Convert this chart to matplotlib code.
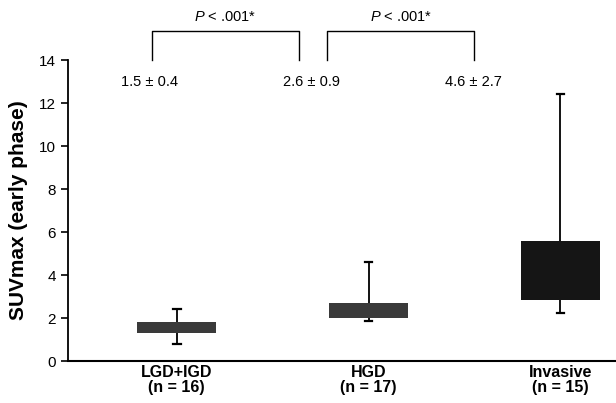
import matplotlib.pyplot as plt

plt.rcParams['font.family'] = ['Liberation Sans', 'DejaVu Sans']
plt.rcParams['mathtext.fontset'] = 'custom'
plt.rcParams['mathtext.it'] = 'Liberation Sans:italic'
plt.rcParams['mathtext.rm'] = 'Liberation Sans'

# donnees
groupes = ["LGD+IGD\n(n = 16)", "HGD\n(n = 17)", "Invasive\n(n = 15)"]
q1 = [1.30, 2.00, 2.84]
q3 = [1.81, 2.70, 5.58]
bas = [0.79, 1.86, 2.23]
haut = [2.42, 4.60, 12.40]
moyennes = ["1.5 \u00b1 0.4", "2.6 \u00b1 0.9", "4.6 \u00b1 2.7"]
couleurs = ["#3a3a3a", "#3a3a3a", "#151515"]
p_valeurs = ["$P$ < .001*", "$P$ < .001*"]

fig = plt.figure(figsize=(6.16, 4.03), dpi=100)
ax = fig.add_axes([0.110, 0.104, 0.89, 0.747])

stats = []
for i in range(len(groupes)):
    stats.append({"q1": q1[i], "q3": q3[i], "whislo": bas[i], "whishi": haut[i],
                  "med": q1[i], "fliers": []})

pos = [0, 1, 2]
bp = ax.bxp(stats, positions=pos, widths=0.41, patch_artist=True,
            showfliers=False, capwidths=0.04,
            medianprops=dict(linewidth=0, alpha=0),
            whiskerprops=dict(color="black", linewidth=1.3),
            capprops=dict(color="black", linewidth=1.6),
            boxprops=dict(linewidth=0))
for patch, c in zip(bp["boxes"], couleurs):
    patch.set_facecolor(c)
    patch.set_edgecolor(c)
    patch.set_zorder(3)

ax.set_xlim(-0.568, 2.29)
ax.set_ylim(0, 14)
ax.set_yticks(range(0, 15, 2))
ax.set_xticks(pos)
ax.set_xticklabels(groupes, fontweight="bold", fontsize=11.5, linespacing=0.95)
ax.tick_params(axis="x", length=0, pad=3)
ax.tick_params(axis="y", labelsize=11, length=5, width=1.2)
ax.set_ylabel("SUVmax (early phase)", fontsize=15, fontweight="bold", labelpad=8)

ax.spines["top"].set_visible(False)
ax.spines["right"].set_visible(False)
ax.spines["left"].set_linewidth(1.3)
ax.spines["bottom"].set_linewidth(1.5)

# moyennes et crochets
x_labels = [-0.14, 0.705, 1.545]
for x, t in zip(x_labels, moyennes):
    ax.text(x, 13.0, t, ha="center", va="center", fontsize=10.5, clip_on=False)

crochets = [(-0.13, 0.635), (0.786, 1.55)]
for (a, b), p in zip(crochets, p_valeurs):
    ax.plot([a, a, b, b], [14.0, 15.35, 15.35, 14.0], color="black", lw=1.0, clip_on=False)
    ax.text((a + b) / 2, 16.0, p, ha="center", va="center", fontsize=10.5, clip_on=False)

fig.savefig("out.png", dpi=100)
